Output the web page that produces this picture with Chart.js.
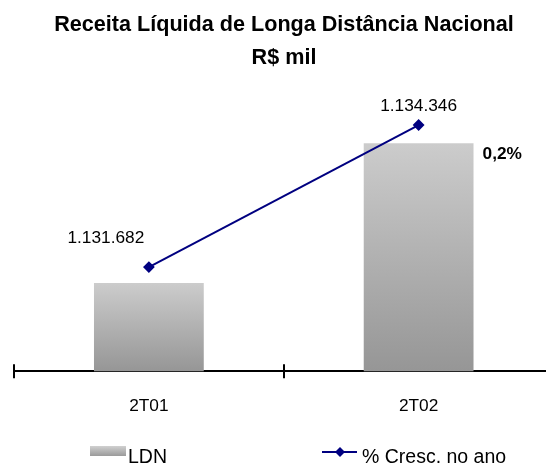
<!DOCTYPE html>
<html>
<head>
<meta charset="utf-8">
<script src="https://cdn.jsdelivr.net/npm/chart.js@4/dist/chart.umd.min.js"></script>
<style>
  html, body { margin: 0; padding: 0; background: #fff; }
  #wrap { width: 546px; height: 464px; overflow: hidden; position: relative; }
</style>
</head>
<body>
<div id="wrap"><canvas id="chart" width="560" height="464"></canvas></div>
<script>
const categories = ["2T01", "2T02"];
const ldnValues = [1131682, 1134346];
const crescValues = [1131682, 1134346];
const valueLabels = ["1.131.682", "1.134.346"];
const growthLabel = "0,2%";
const titleLines = ["Receita Líquida de Longa Distância Nacional", "R$ mil"];
const legendLabels = ["LDN", "% Cresc. no ano"];

const FONT = "'Liberation Sans', Arial, sans-serif";
const NAVY = "#000080";

function barGradient(context) {
    const chart = context.chart;
    const area = chart.chartArea;
    if (!area || context.type !== "data") return "#b4b4b4";
    const top = chart.scales.y.getPixelForValue(context.raw);
    const g = chart.ctx.createLinearGradient(0, top, 0, area.bottom);
    g.addColorStop(0, "#cccccc");
    g.addColorStop(1, "#969696");
    return g;
}

// tick marks crossing the axis line at category boundaries
const axisTicks = {
    id: "axisTicks",
    afterDraw(chart) {
        const ctx = chart.ctx;
        const x = chart.scales.x;
        const step = x.width / categories.length;
        const y = chart.chartArea.bottom;
        ctx.save();
        ctx.strokeStyle = "#000";
        ctx.lineWidth = 2;
        for (let i = 0; i <= categories.length; i++) {
            const px = Math.round(x.left + i * step);
            ctx.beginPath();
            ctx.moveTo(px, y - 7);
            ctx.lineTo(px, y + 7);
            ctx.stroke();
        }
        ctx.restore();
    }
};

// value labels near the line points and the growth label
const labelPlugin = {
    id: "labelPlugin",
    afterDatasetsDraw(chart) {
        const ctx = chart.ctx;
        const lineMeta = chart.getDatasetMeta(1);
        const barMeta = chart.getDatasetMeta(0);
        const offsets = [[-43, -29], [0, -19]];
        ctx.save();
        ctx.fillStyle = "#000";
        ctx.font = "17.3px " + FONT;
        ctx.textAlign = "center";
        ctx.textBaseline = "middle";
        lineMeta.data.forEach((pt, i) => {
            ctx.fillText(valueLabels[i], pt.x + offsets[i][0], pt.y + offsets[i][1]);
        });
        const last = barMeta.data[barMeta.data.length - 1];
        ctx.font = "bold 17.3px " + FONT;
        ctx.textAlign = "left";
        ctx.fillText(growthLabel, last.x + last.width / 2 + 9, last.y + 11);
        ctx.restore();
    }
};

// legend at the bottom
const legendPlugin = {
    id: "legendPlugin",
    afterDraw(chart) {
        const ctx = chart.ctx;
        const base = chart.height - 1;
        ctx.save();
        const g = ctx.createLinearGradient(0, base - 17, 0, base - 7);
        g.addColorStop(0, "#d0d0d0");
        g.addColorStop(1, "#9a9a9a");
        ctx.fillStyle = g;
        ctx.fillRect(90, base - 17, 36, 10);
        ctx.fillStyle = "#000";
        ctx.font = "19.5px " + FONT;
        ctx.textAlign = "left";
        ctx.textBaseline = "alphabetic";
        ctx.fillText(legendLabels[0], 128, base);

        ctx.strokeStyle = NAVY;
        ctx.lineWidth = 2;
        ctx.beginPath();
        ctx.moveTo(322, base - 11);
        ctx.lineTo(357, base - 11);
        ctx.stroke();
        ctx.fillStyle = NAVY;
        ctx.beginPath();
        ctx.moveTo(340, base - 16);
        ctx.lineTo(345, base - 11);
        ctx.lineTo(340, base - 6);
        ctx.lineTo(335, base - 11);
        ctx.closePath();
        ctx.fill();
        ctx.fillStyle = "#000";
        ctx.fillText(legendLabels[1], 362, base);
        ctx.restore();
    }
};

const ctx = document.getElementById("chart").getContext("2d");
const chart = new Chart(ctx, {
    data: {
        labels: categories,
        datasets: [
            {
                type: "bar",
                label: legendLabels[0],
                data: ldnValues,
                yAxisID: "y",
                backgroundColor: barGradient,
                borderWidth: 0,
                categoryPercentage: 1,
                barPercentage: 0.407,
                order: 1
            },
            {
                type: "line",
                label: legendLabels[1],
                data: crescValues,
                yAxisID: "y1",
                borderColor: NAVY,
                borderWidth: 2,
                pointStyle: "rectRot",
                pointRadius: 4.5,
                pointBackgroundColor: NAVY,
                pointBorderColor: NAVY,
                tension: 0,
                order: 0
            }
        ]
    },
    options: {
        responsive: false,
        animation: false,
        layout: { padding: { left: 14, right: 6, top: 0, bottom: 22 } },
        plugins: {
            legend: { display: false },
            tooltip: { enabled: false },
            title: {
                display: true,
                text: titleLines,
                color: "#000",
                font: { family: FONT, size: 21.6, weight: "bold", lineHeight: 1.5 },
                padding: { top: 9, bottom: 35 }
            }
        },
        scales: {
            x: {
                grid: { display: true, drawOnChartArea: false, drawTicks: false },
                border: { color: "#000", width: 2 },
                ticks: { color: "#000", font: { family: FONT, size: 17.3 }, padding: 25 }
            },
            y: { display: false, min: 1130000, max: 1135000 },
            y1: { display: false, min: 1129730, max: 1134650 }
        }
    },
    plugins: [axisTicks, labelPlugin, legendPlugin]
});
</script>
</body>
</html>
